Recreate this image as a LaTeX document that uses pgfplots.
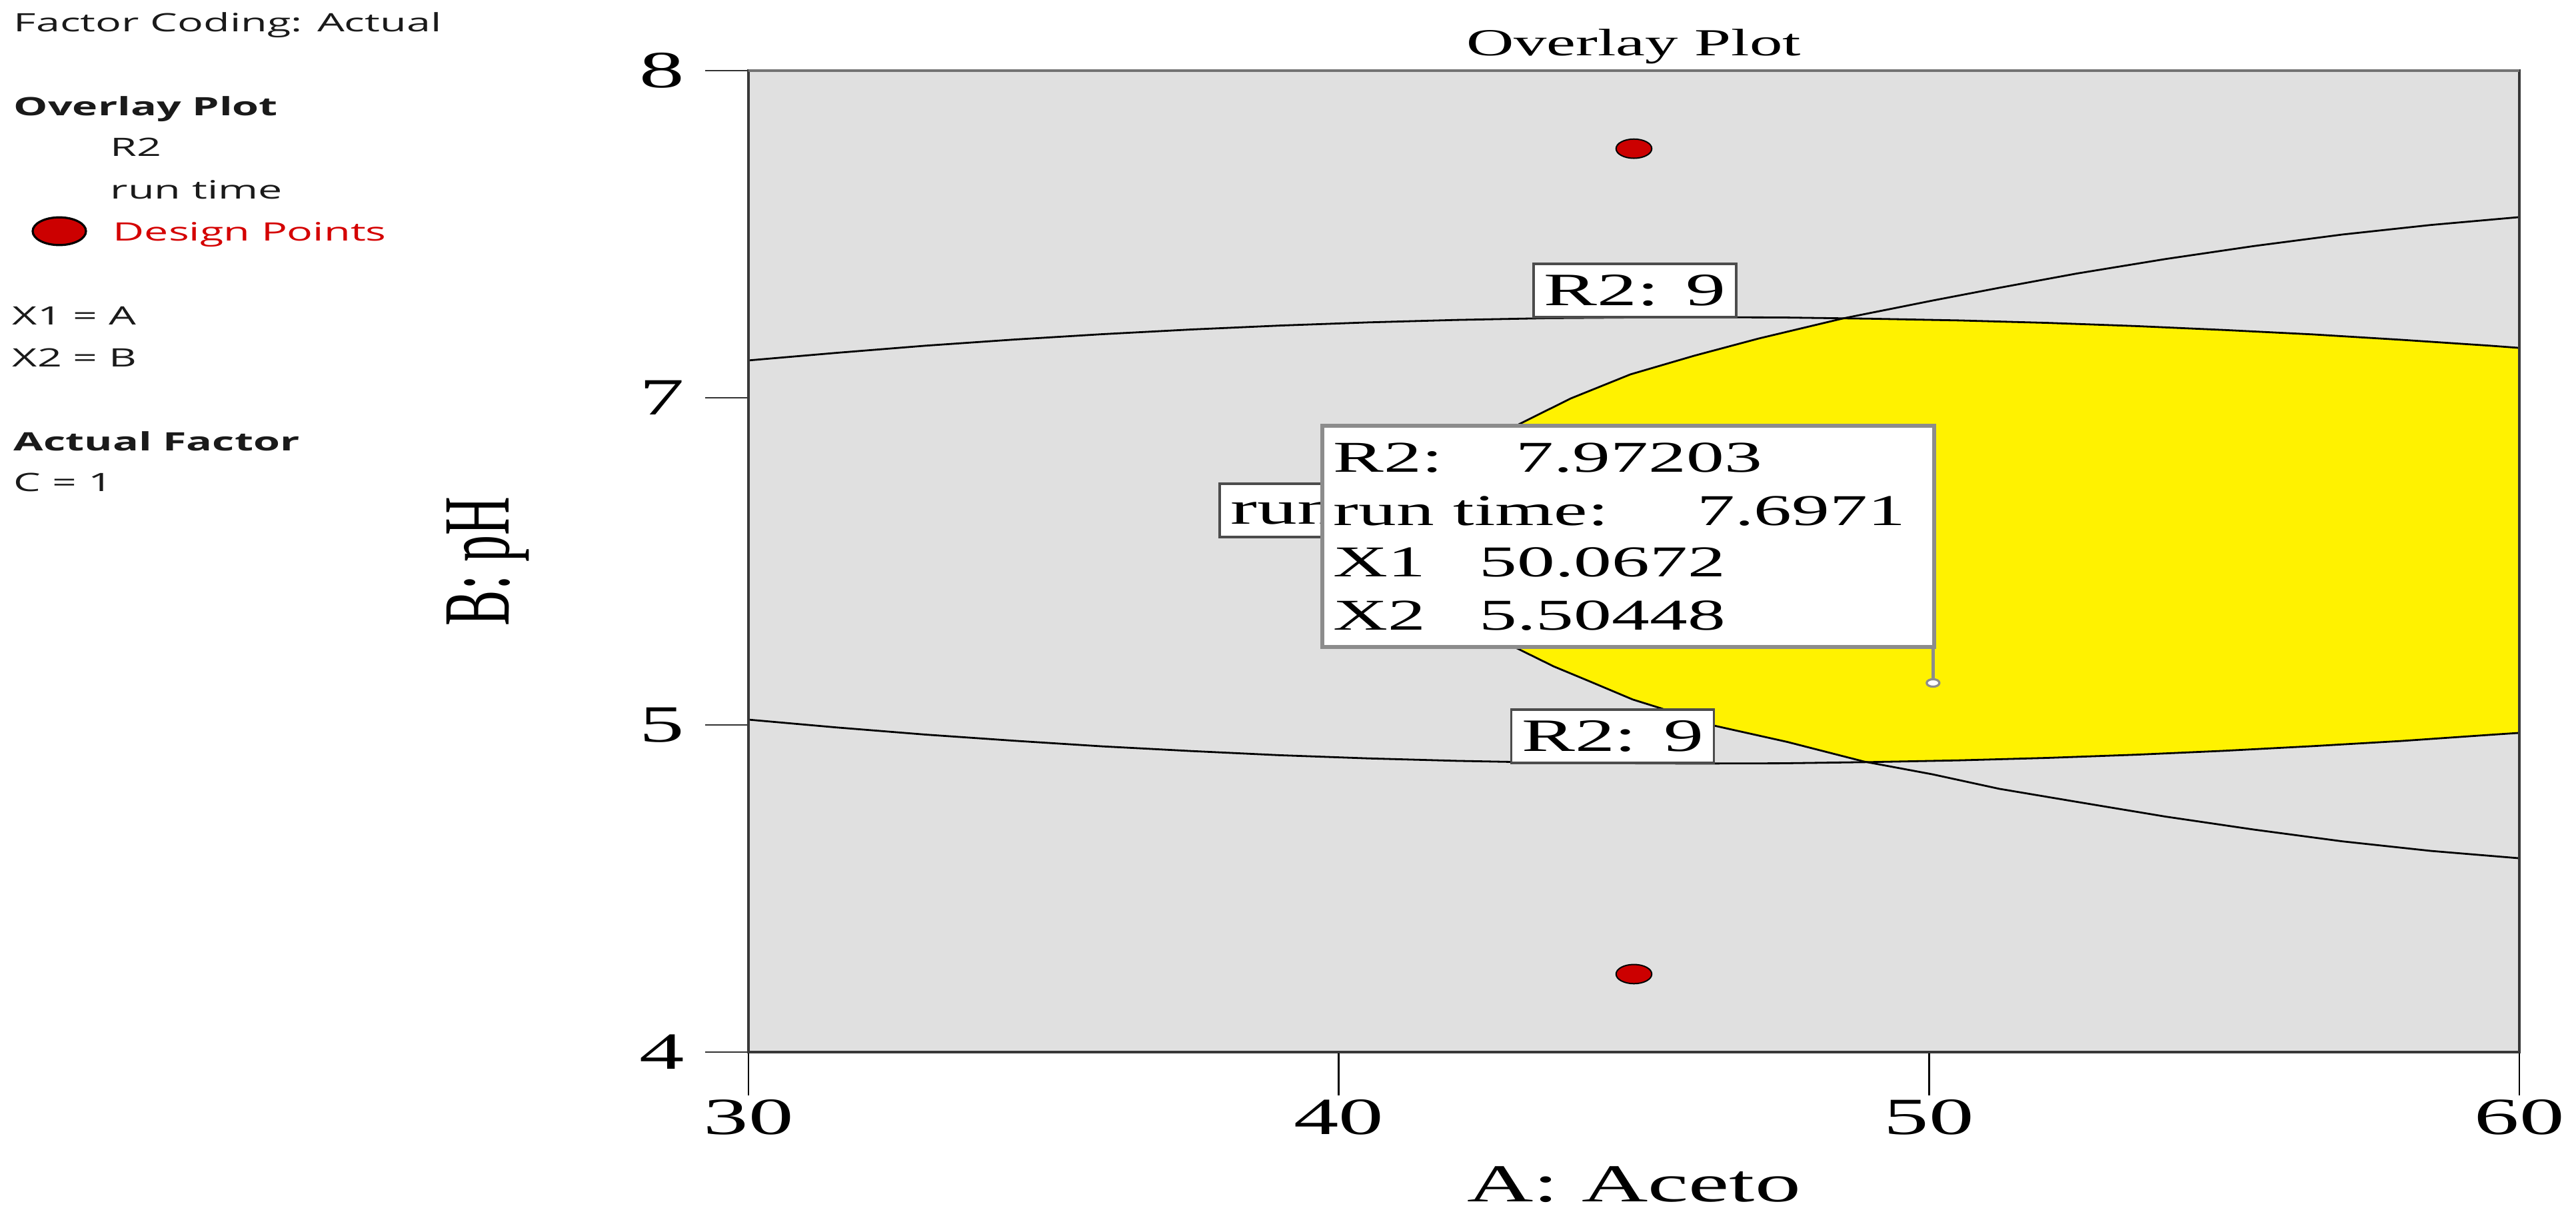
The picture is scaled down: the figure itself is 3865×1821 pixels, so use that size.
\documentclass[border=0pt]{standalone}
\usepackage{fontspec}
\setmainfont{Liberation Serif}[FakeStretch=1.72]
\newfontfamily\plainserif{Liberation Serif}
\newfontfamily\legendfont{Open Sans}[FakeStretch=1.7]
\usepackage{graphicx}
\usepackage{pgfplots}
\pgfplotsset{compat=1.18}
\definecolor{plotgray}{HTML}{E0E0E0}
\definecolor{dpred}{HTML}{CC0000}
\definecolor{legred}{HTML}{D40000}
\definecolor{boxgray}{HTML}{8C8C8C}
\definecolor{legtext}{HTML}{1A1A1A}
\newcommand\fs[1]{\fontsize{#1}{#1}\selectfont}

\begin{document}
\begin{tikzpicture}
\begin{scope}[x=0.25pt,y=-0.25pt]
\path[use as bounding box] (0,0) rectangle (3865,1821);
% side legend
\begin{scope}[every node/.style={anchor=base west, inner sep=0pt, text=legtext, font=\legendfont\fs{9.5}}]
\node at (20,47) {Factor Coding: Actual};
\node[font=\legendfont\bfseries\fs{9.5}] at (20,173) {Overlay Plot};
\node at (165,234) {R2};
\node at (165,298) {run time};
\node[text=legred] at (169,361) {Design Points};
\node at (18,487) {X1 = A};
\node at (18,550) {X2 = B};
\node[font=\legendfont\bfseries\fs{9.5}] at (20,676) {Actual Factor};
\node at (20,737) {C = 1};
\end{scope}
\draw[fill=dpred, draw=black, line width=0.8pt] (89,347) ellipse [x radius=10pt, y radius=5.2pt];
\end{scope}

\begin{axis}[at={(280.75pt,-394.75pt)}, anchor=south west,
  scale only axis, width=664.25pt, height=368.25pt,
  xmin=30, xmax=60, ymin=4, ymax=8,
  axis background/.style={fill=plotgray},
  axis on top,
  axis line style={draw=black!78, line width=1.1pt},
  tick align=outside, xtick pos=bottom, ytick pos=left,
  major tick length=16.25pt,
  xtick={30,40,50,60},
  ytick={4,5.33333,6.66667,8}, yticklabels={4,5,7,8},
  xtick style={black, line width=0.6pt},
  ytick style={black!80, line width=0.7pt},
  /pgf/number format/assume math mode=true,
  ticklabel style={font=\fs{19.6}, inner sep=0pt},
  xticklabel style={anchor=base, yshift=-14.5pt},
  yticklabel style={anchor=east, xshift=-7.5pt},
  xlabel={A: Aceto},
  ylabel={\scalebox{1}[1.78]{\plainserif\fs{20}B: pH}},
  xlabel style={at={(axis description cs:0.5,-0.15207)}, anchor=base, font=\fs{20}},
  ylabel style={at={(axis description cs:-0.13549,0.5)}, anchor=base},
]
% desirable region
\addplot[fill=yellow, draw=none] coordinates {
(48.54,6.990) (49,6.989) (50.5,6.982) (52,6.972) (53.5,6.959) (55,6.943)
(56.5,6.925) (58,6.903) (59.5,6.879) (60,6.870) (60,5.301) (59.5,5.293)
(58,5.268) (56.5,5.247) (55,5.228) (53.5,5.212) (52,5.199) (50.5,5.189)
(49,5.182) (48.9,5.183) (47.6,5.264) (46.35,5.331) (45.46,5.401) (44.98,5.437)
(44.23,5.513) (43.64,5.572) (43.0,5.648) (42.62,5.70) (42.01,5.80) (41.58,5.90)
(41.33,6.00) (41.24,6.10) (41.33,6.20) (41.58,6.30) (42.01,6.40) (42.62,6.50)
(43.07,6.561) (43.93,6.664) (44.94,6.762) (46.02,6.838) (47.11,6.908) (48.54,6.990)
} -- cycle;
% R2 = 9, upper
\addplot[black, line width=0.7pt] coordinates {
(30,6.819) (31.5,6.850) (33,6.879) (34.5,6.904) (36,6.926) (37.5,6.945)
(39,6.961) (40.5,6.974) (42,6.984) (43.5,6.991) (45,6.994) (46,6.995)
(47.5,6.994) (49,6.989) (50.5,6.982) (52,6.972) (53.5,6.959) (55,6.943)
(56.5,6.925) (58,6.903) (59.5,6.879) (60,6.870)
};
% R2 = 9, lower
\addplot[black, line width=0.7pt] coordinates {
(30,5.355) (31.5,5.323) (33,5.294) (34.5,5.269) (36,5.246) (37.5,5.227)
(39,5.210) (40.5,5.197) (42,5.187) (43.5,5.180) (45,5.177) (46,5.176)
(47.5,5.177) (49,5.182) (50.5,5.189) (52,5.199) (53.5,5.212) (55,5.228)
(56.5,5.247) (58,5.268) (59.5,5.293) (60,5.301)
};
% run time
\addplot[black, line width=0.7pt] coordinates {
(60,4.790) (58.5,4.820) (57,4.859) (55.5,4.907) (54,4.960) (52.5,5.020)
(51.19,5.073) (50.06,5.132) (48.9,5.184)
(47.6,5.264) (46.35,5.331) (45.46,5.401) (44.98,5.437) (44.23,5.513) (43.64,5.572)
(43.0,5.648) (42.62,5.70) (42.01,5.80) (41.58,5.90) (41.33,6.00) (41.24,6.10)
(41.33,6.20) (41.58,6.30) (42.01,6.40) (42.62,6.50) (43.07,6.561) (43.93,6.664)
(44.94,6.762) (46.02,6.838) (47.11,6.908) (48.54,6.990) (50.06,7.063) (51.19,7.115)
(52.5,7.173) (54,7.232) (55.5,7.285) (57,7.332) (58.5,7.371) (60,7.403)
};
% design points
\addplot[only marks, mark=*, mark size=3.6pt,
  mark options={fill=dpred, draw=black, line width=0.5pt, xscale=1.86}]
  coordinates {(45,7.682) (45,4.318)};
% flag leader and point
\addplot[boxgray, line width=1.3pt] coordinates {(50.0672,5.651) (50.0672,5.50448)};
\addplot[only marks, mark=*, mark size=1.4pt,
  mark options={fill=white, draw=boxgray, line width=0.8pt, xscale=1.7}]
  coordinates {(50.0672,5.50448)};
\end{axis}

\begin{scope}[x=0.25pt,y=-0.25pt]
\draw[black!55, line width=1.1pt] (1123,106) -- (3780,106);
\node[anchor=base, inner sep=0pt, font=\fs{14.35}] at (2451,83) {Overlay Plot};
% contour labels
\begin{scope}[every node/.style={draw=black!70, fill=white, line width=0.8pt,
    minimum height=20pt, inner sep=0pt, font=\fs{17.4}}]
\node[minimum width=76pt] at (2453,436) {R2: 9};
\node[minimum width=76pt] at (2419.5,1105) {R2: 9};
\end{scope}
\begin{scope}
\clip (1800,700) rectangle (1984,830);
\draw[black!70, fill=white, line width=0.8pt] (1830,726) rectangle (2400,806);
\node[anchor=base west, inner sep=0pt, font=\fs{17.4}] at (1846,786) {run};
\end{scope}
% flag
\draw[boxgray, line width=1.4pt, fill=white] (1984,639) rectangle (2902,971);
\begin{scope}[every node/.style={anchor=base west, inner sep=0pt, font=\fs{16.5}}]
\node at (2000,708) {R2:};
\node at (2274,708) {7.97203};
\node at (2000,788) {run time:};
\node at (2546,788) {7.6971};
\node at (2000,865) {X1};
\node at (2219,865) {50.0672};
\node at (2000,945) {X2};
\node at (2219,945) {5.50448};
\end{scope}
\end{scope}
\end{tikzpicture}
\end{document}
